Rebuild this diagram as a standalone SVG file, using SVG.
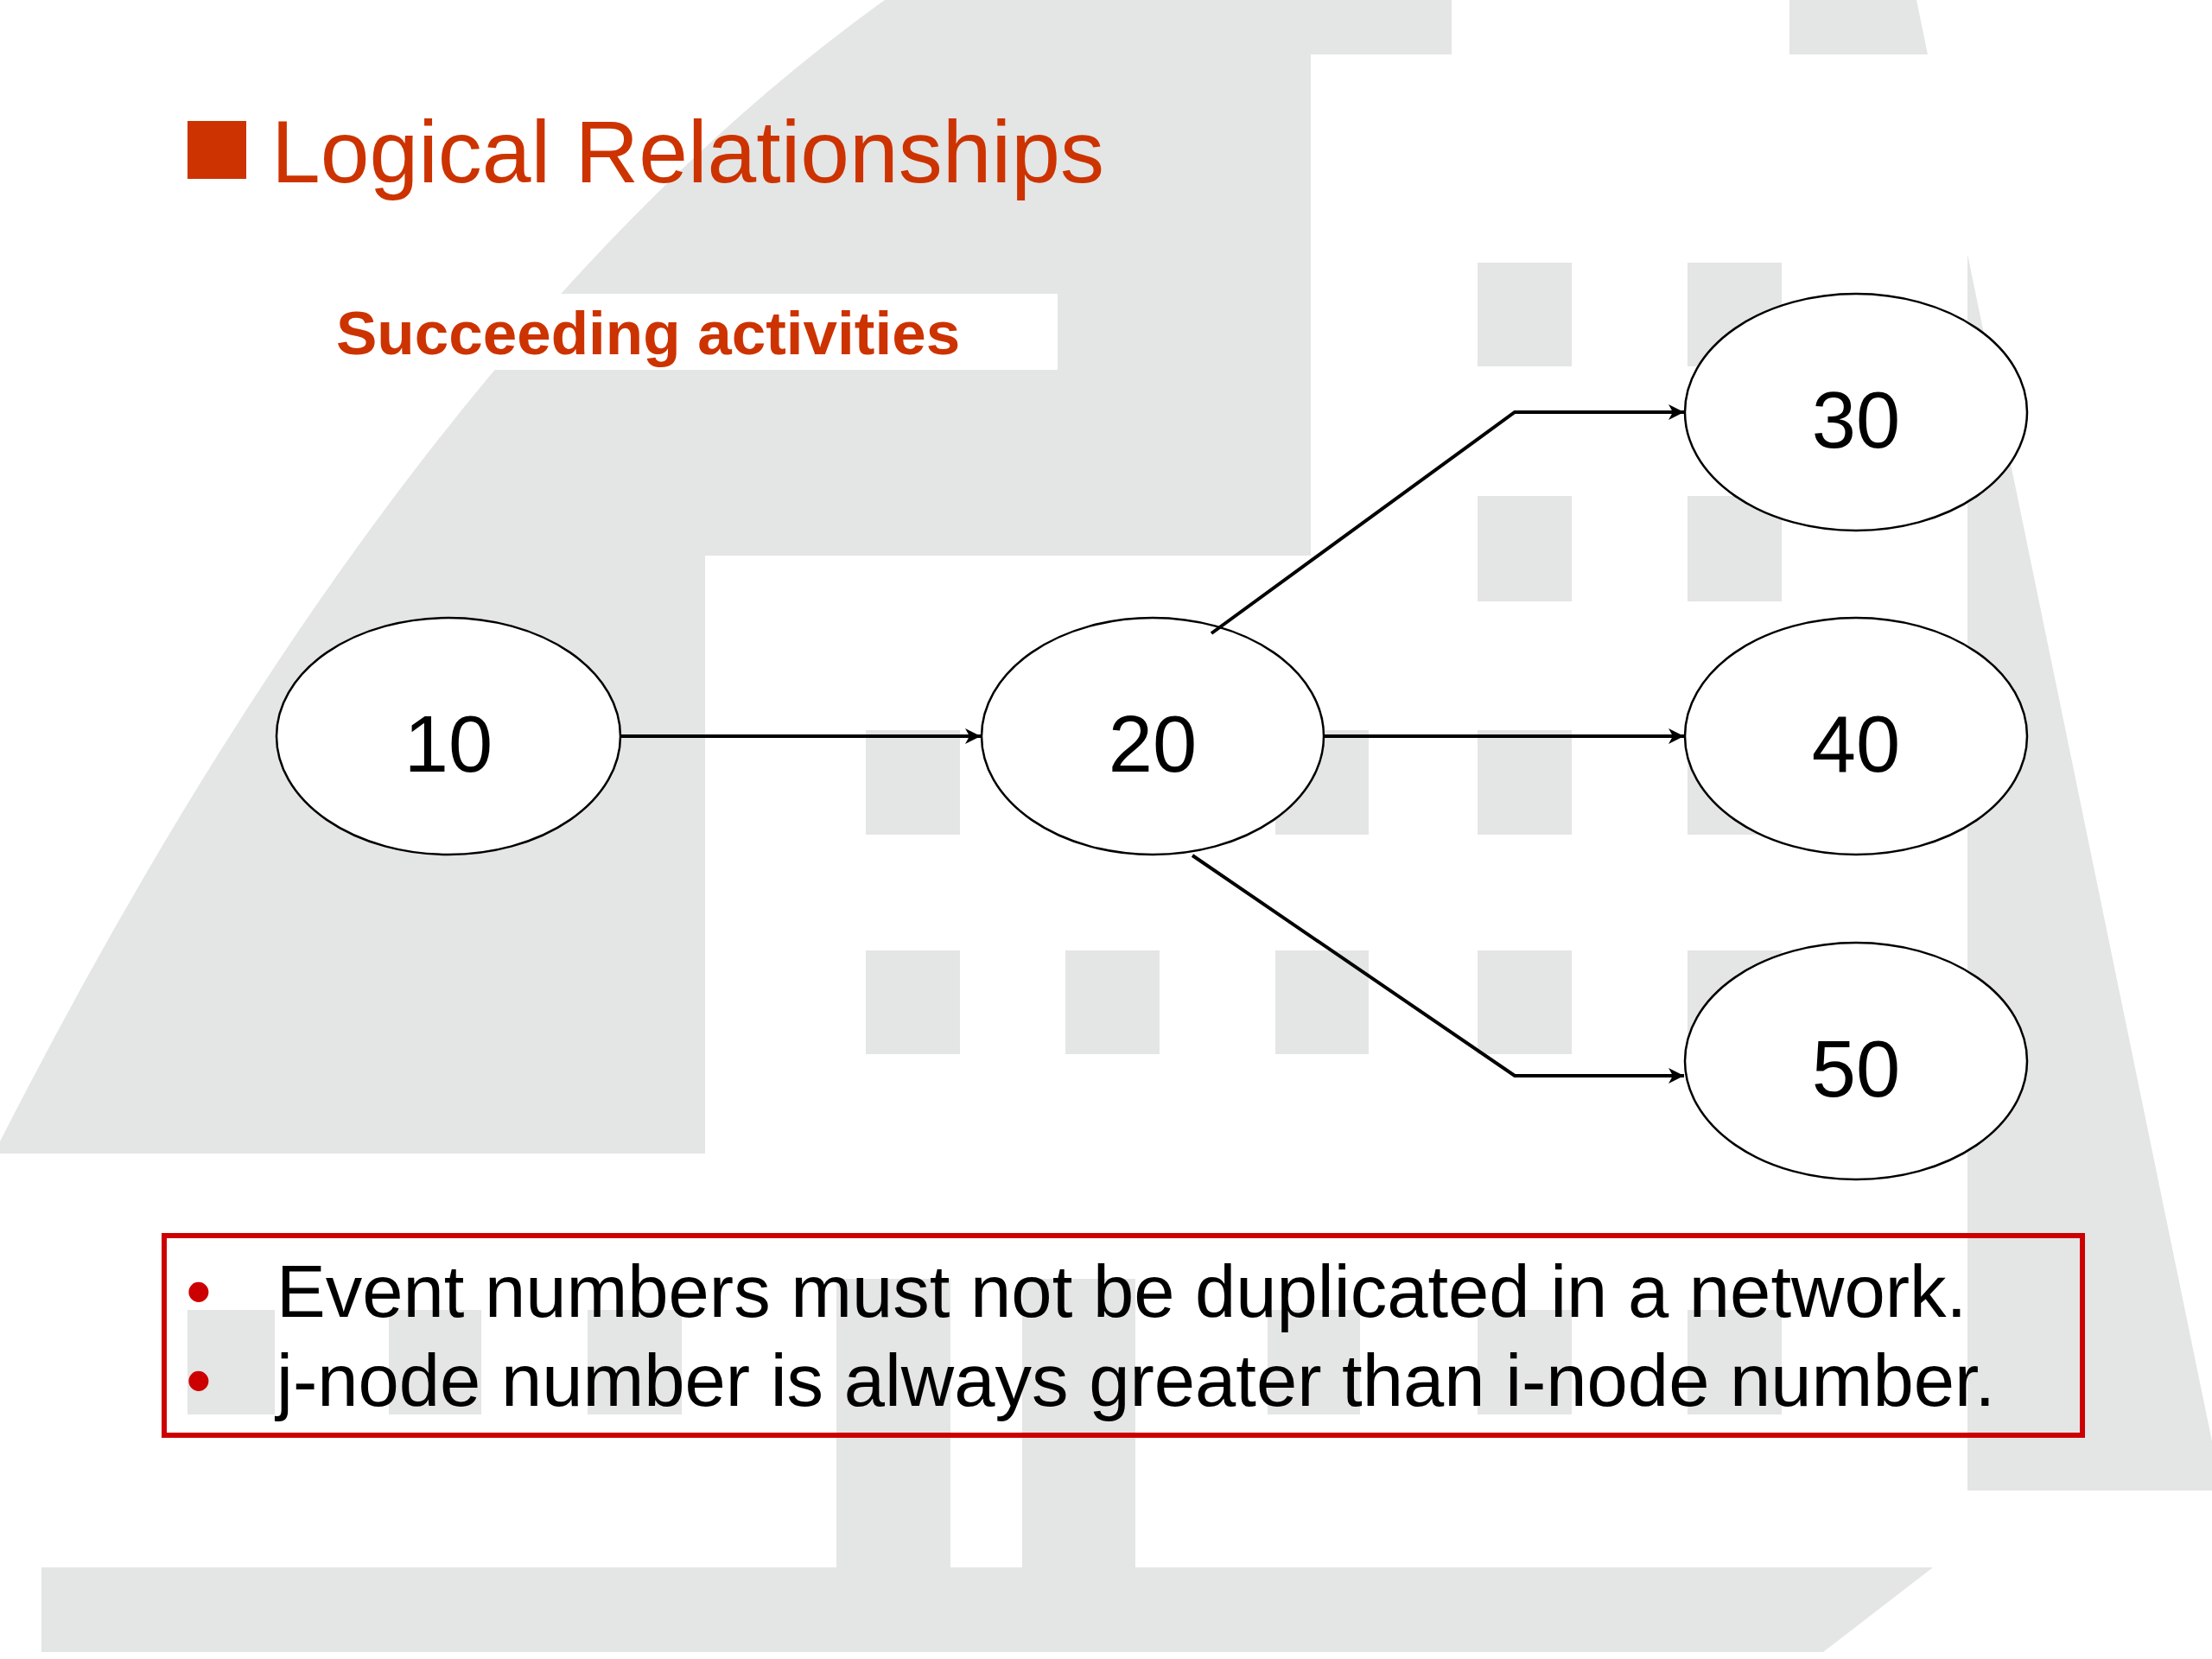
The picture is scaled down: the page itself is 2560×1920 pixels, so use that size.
<svg xmlns="http://www.w3.org/2000/svg" width="2560" height="1920" viewBox="0 0 2560 1920">
  <defs>
    <style>
      .bg { fill: #e4e5e5; }
      .node ellipse { fill: #ffffff; stroke: #000000; stroke-width: 2.5; }
      .node text { font-family: "Liberation Sans", Arial, sans-serif; font-size: 92px; fill: #000000; text-anchor: middle; }
      .conn { fill: none; stroke: #000000; stroke-width: 4; marker-end: url(#arrow); }
      .body { font-family: "Liberation Sans", Arial, sans-serif; font-size: 85px; fill: #000000; }
      .bullet { font-family: "Liberation Sans", Arial, sans-serif; font-size: 85px; fill: #cc0000; }
    </style>
    <marker id="arrow" markerUnits="userSpaceOnUse" markerWidth="20" markerHeight="20" refX="18" refY="9" orient="auto">
      <path d="M0,0 L18,9 L0,18 L5,9 Z" fill="#000000"/>
    </marker>
  </defs>

  <rect width="2560" height="1920" fill="#ffffff"/>

  <g id="background">
    <path class="bg" d="M1024,0 L1680,0 L1680,63 L1517,63 L1517,643 L816,643 L816,1335 L0,1335 L0,1321 Q471,397 1024,0 Z"/>
    <polygon class="bg" points="2071,0 2218,0 2231,63 2071,63"/>
    <polygon class="bg" points="2277,294 2560,1668 2560,1725 2277,1725"/>
    <rect class="bg" x="1710" y="304" width="109" height="120"/>
    <rect class="bg" x="1953" y="304" width="109" height="120"/>
    <rect class="bg" x="1710" y="574" width="109" height="122"/>
    <rect class="bg" x="1953" y="574" width="109" height="122"/>
    <rect class="bg" x="1002" y="845" width="109" height="121"/>
    <rect class="bg" x="1476" y="845" width="108" height="121"/>
    <rect class="bg" x="1710" y="845" width="109" height="121"/>
    <rect class="bg" x="1953" y="845" width="109" height="121"/>
    <rect class="bg" x="1002" y="1100" width="109" height="120"/>
    <rect class="bg" x="1233" y="1100" width="109" height="120"/>
    <rect class="bg" x="1476" y="1100" width="108" height="120"/>
    <rect class="bg" x="1710" y="1100" width="109" height="120"/>
    <rect class="bg" x="1953" y="1100" width="109" height="120"/>
    <rect class="bg" x="217" y="1516" width="101" height="121"/>
    <rect class="bg" x="450" y="1516" width="107" height="121"/>
    <rect class="bg" x="680" y="1516" width="109" height="121"/>
    <rect class="bg" x="1467" y="1516" width="107" height="121"/>
    <rect class="bg" x="1710" y="1516" width="109" height="121"/>
    <rect class="bg" x="1953" y="1516" width="109" height="121"/>
    <rect class="bg" x="968" y="1480" width="132" height="340"/>
    <rect class="bg" x="1183" y="1480" width="131" height="340"/>
    <polygon class="bg" points="48,1814 2237,1814 2110,1912 48,1912"/>
  </g>

  <rect x="380" y="340" width="844" height="88" fill="#ffffff"/>

  <g id="title">
    <rect x="217" y="140" width="68" height="67" fill="#cc3300"/>
    <text x="314" y="211" font-family="'Liberation Sans', Arial, sans-serif" font-size="102" fill="#cc3300">Logical Relationships</text>
  </g>

  <text id="subtitle" x="389" y="410" font-family="'Liberation Sans', Arial, sans-serif" font-size="71" font-weight="bold" fill="#cc3300">Succeeding activities</text>

  <g id="node-10" class="node">
    <ellipse cx="519" cy="852" rx="199" ry="137"/>
    <text x="519" y="893">10</text>
  </g>
  <g id="node-20" class="node">
    <ellipse cx="1334" cy="852" rx="198" ry="137"/>
    <text x="1334" y="893">20</text>
  </g>
  <g id="node-30" class="node">
    <ellipse cx="2148" cy="477" rx="198" ry="137"/>
    <text x="2148" y="518">30</text>
  </g>
  <g id="node-40" class="node">
    <ellipse cx="2148" cy="852" rx="198" ry="137"/>
    <text x="2148" y="893">40</text>
  </g>
  <g id="node-50" class="node">
    <ellipse cx="2148" cy="1228" rx="198" ry="137"/>
    <text x="2148" y="1269">50</text>
  </g>

  <g id="connectors">
    <path class="conn" d="M718,852 L1135,852"/>
    <path class="conn" d="M1402,733 L1753,477 L1949,477"/>
    <path class="conn" d="M1532,852 L1949,852"/>
    <path class="conn" d="M1380,990 L1753,1245 L1949,1245"/>
  </g>

  <g id="notes">
    <rect x="190" y="1430" width="2220" height="231" fill="none" stroke="#cc0000" stroke-width="6"/>
    <text class="bullet" x="215" y="1524">•</text>
    <text class="bullet" x="215" y="1627">•</text>
    <text class="body" x="320" y="1524">Event numbers must not be duplicated in a network.</text>
    <text class="body" x="320" y="1627">j-node number is always greater than i-node number.</text>
  </g>
</svg>
